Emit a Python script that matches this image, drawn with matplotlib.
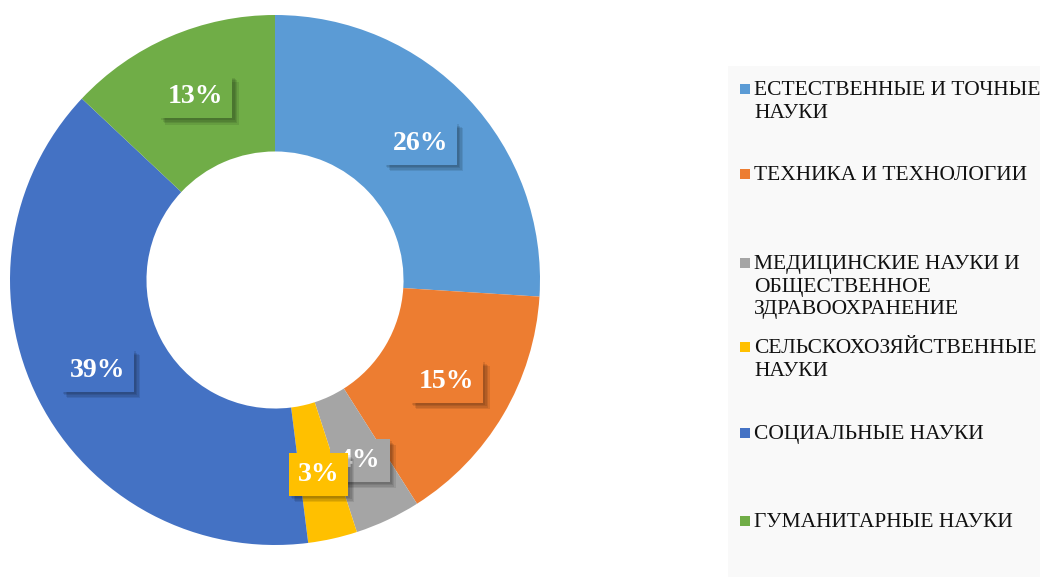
import matplotlib
matplotlib.use("Agg")
import matplotlib.pyplot as plt
import matplotlib.patheffects as pe
from matplotlib.patches import Rectangle
import numpy as np

categories = ["ЕСТЕСТВЕННЫЕ И ТОЧНЫЕ\nНАУКИ",
              "ТЕХНИКА И ТЕХНОЛОГИИ",
              "МЕДИЦИНСКИЕ НАУКИ И\nОБЩЕСТВЕННОЕ\nЗДРАВООХРАНЕНИЕ",
              "СЕЛЬСКОХОЗЯЙСТВЕННЫЕ\nНАУКИ",
              "СОЦИАЛЬНЫЕ НАУКИ",
              "ГУМАНИТАРНЫЕ НАУКИ"]
values = [26, 15, 4, 3, 39, 13]
labels = ["26%", "15%", "4%", "3%", "39%", "13%"]
colors = ["#5B9BD5", "#ED7D31", "#A5A5A5", "#FFC000", "#4472C4", "#70AD47"]

W, H = 1040, 577
fig = plt.figure(figsize=(W / 100, H / 100), dpi=100)
fig.patch.set_facecolor("white")

# legend background
bg = fig.add_axes([728 / W, 0, (1040 - 728) / W, (H - 66) / H])
bg.set_facecolor("#F9F9F9")
bg.set_xticks([]); bg.set_yticks([])
for s in bg.spines.values():
    s.set_visible(False)

# donut
cx, cy, R = 275, 280, 265
ax = fig.add_axes([(cx - R) / W, (H - cy - R) / H, 2 * R / W, 2 * R / H])
inner = 0.485
wedges, _ = ax.pie(values, colors=colors, startangle=90, counterclock=False,
                   radius=1.0, wedgeprops=dict(width=1 - inner, linewidth=0))
ax.set_xlim(-1, 1)
ax.set_ylim(-1, 1)
ax.set_aspect("equal")
ax.axis("off")

shadow = [pe.SimplePatchShadow(offset=(d, -d), shadow_rgbFace="#000000", alpha=0.09)
          for d in (4.5, 3.5, 2.5, 1.5)] + [pe.Normal()]

rlab = (1 + inner) / 2 + 0.01
order = [0, 1, 4, 5, 2, 3]
for i in order:
    w = wedges[i]
    ang = np.deg2rad((w.theta1 + w.theta2) / 2)
    x, y = rlab * np.cos(ang), rlab * np.sin(ang)
    t = ax.text(x, y, labels[i], ha="center", va="center", color="white",
                fontsize=20, fontweight="bold", family="Liberation Serif",
                bbox=dict(boxstyle="square,pad=0.32", fc=colors[i], ec="none"), zorder=5)
    t.get_bbox_patch().set_path_effects(shadow)

# legend entries
rows = [88, 173, 262, 346, 432, 520]
for cat, col, y in zip(categories, colors, rows):
    fig.patches.append(Rectangle((740 / W, (H - y - 5.5) / H), 10 / W, 10 / H,
                                 transform=fig.transFigure, fc=col, ec="none"))
    fig.text(754 / W, (H - y + 7) / H, cat, ha="left", va="top",
             fontsize=15.5, family="Liberation Serif", color="#111111",
             linespacing=1.26)

fig.savefig("out.png", dpi=100, facecolor="white")
